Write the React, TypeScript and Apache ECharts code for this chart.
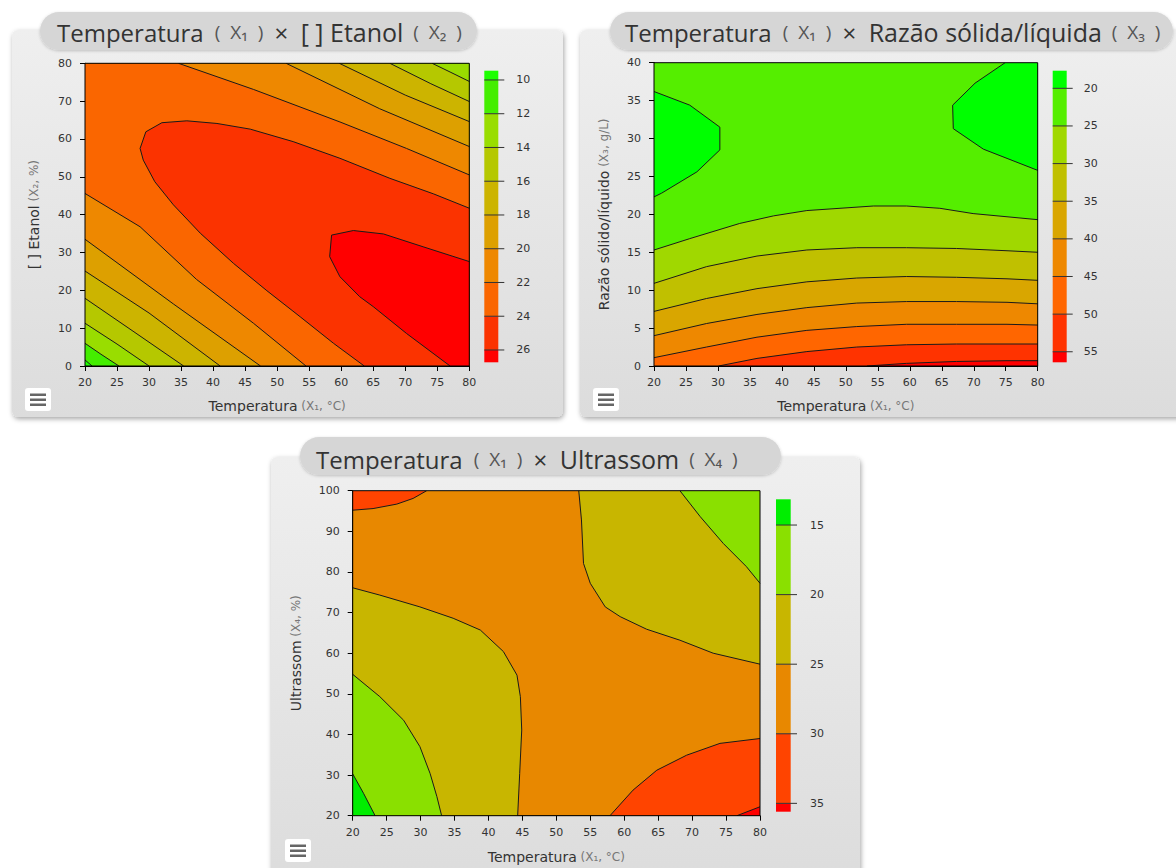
import React, { useEffect, useRef } from 'react';
import * as echarts from 'echarts';

type Pt = [number, number];
interface Fill { c: number; p: Pt[] }

const AXIS_FONT = '"DejaVu Sans", Verdana, sans-serif';
const TITLE_FONT = '"Open Sans", "Noto Sans", sans-serif';

// ---------------- Chart 1: Temperatura x [ ] Etanol ----------------
const c1X = [20, 80];
const c1Y = [0, 80];
const c1LegendTicks = [10, 12, 14, 16, 18, 20, 22, 24, 26];
const c1LegendBounds = [9.45, 10, 12, 14, 16, 18, 20, 22, 24, 26, 26.73];
const c1Colors = ['#1cff00', '#44ee00', '#99dd00', '#b5c800', '#ccb400', '#dda000', '#ee8800', '#fa6600', '#fb3300', '#ff0000'];
// contour lines (data coordinates)
const c1LL10: Pt[] = [[20, 1.6], [21.1, 0]];
const c1LL12: Pt[] = [[20, 6.0], [22.5, 3.1], [25.3, 0]];
const c1LL14: Pt[] = [[20, 11.3], [25, 5.8], [30.0, 0]];
const c1LL16: Pt[] = [[20, 17.9], [27.5, 9.2], [35.4, 0]];
const c1LL18: Pt[] = [[20, 25.1], [30, 14.0], [41.1, 0]];
const c1LL20: Pt[] = [[20, 33.5], [33.8, 16.4], [47.4, 0]];
const c1LL22: Pt[] = [[20, 45.6], [28.6, 36.8], [37.4, 22.9], [46.3, 11.3], [54.5, 0]];
const c1UR14: Pt[] = [[80, 75.2], [77, 77.7], [74.2, 80]];
const c1UR16: Pt[] = [[80, 69.9], [74, 74.6], [67.6, 80]];
const c1UR18: Pt[] = [[80, 64.6], [70, 71.6], [59.7, 80]];
const c1UR20: Pt[] = [[80, 58.0], [66, 68.0], [51.4, 80]];
const c1UR22: Pt[] = [[80, 50.5], [70.2, 57.5], [59.8, 64.5], [46.3, 73.1], [34.6, 80]];
const c1C24: Pt[] = [[63.6, 0], [58.8, 6.0], [53.6, 13.0], [48.4, 19.9], [43.2, 27.1], [38.0, 35.1], [33.8, 42.6], [30.9, 48.7], [29.1, 54.4], [28.6, 57.5], [29.5, 61.9], [32.0, 64.3], [35.9, 64.8], [40.6, 64.1], [45.8, 62.6], [52.5, 59.3], [59.8, 54.9], [67.6, 49.6], [74.4, 45.5], [80, 41.7]];
const c1C26: Pt[] = [[77, 0], [70.2, 8.6], [65, 15.7], [62.9, 18.3], [59.8, 23.6], [58.2, 28.9], [58.5, 34.6], [61.9, 35.8], [66.6, 34.9], [72.8, 31.5], [80, 27.6]];

// ---------------- Chart 2: Temperatura x Razão sólida/líquida ----------------
const c2X = [20, 80];
const c2Y = [0, 40];
const c2LegendTicks = [20, 25, 30, 35, 40, 45, 50, 55];
const c2LegendBounds = [17.66, 20, 25, 30, 35, 40, 45, 50, 55, 56.4];
const c2Colors = ['#00ff00', '#55ee00', '#a0d800', '#c0c000', '#d9a600', '#ee8800', '#ff6600', '#ff3300', '#ff0000'];
const c2BlobL: Pt[] = [[20, 36.2], [25.6, 34.4], [30.3, 31.5], [30.3, 28.5], [26.7, 25.6], [21.2, 22.8], [20, 22.3]];
const c2BlobR: Pt[] = [[74.9, 40], [70.2, 37.3], [66.7, 34.4], [66.8, 31.3], [71.5, 28.6], [80, 25.8]];
const c2L25: Pt[] = [[20, 15.3], [25.6, 16.8], [33.4, 18.8], [38.7, 19.8], [43.9, 20.5], [54.3, 21.1], [59.5, 21.1], [64.7, 20.8], [69.9, 20.1], [80, 19.3]];
const c2L30: Pt[] = [[20, 10.9], [28.2, 13.1], [36.1, 14.5], [43.9, 15.3], [51.7, 15.6], [59.5, 15.6], [67.3, 15.5], [75.2, 15.2], [80, 15.0]];
const c2L35: Pt[] = [[20, 7.2], [28.2, 8.9], [36.1, 10.2], [43.9, 11.1], [51.7, 11.6], [59.5, 11.8], [67.3, 11.7], [75.2, 11.5], [80, 11.3]];
const c2L40: Pt[] = [[20, 4.0], [28.2, 5.6], [36.1, 6.8], [43.9, 7.7], [51.7, 8.3], [59.5, 8.5], [67.3, 8.5], [75.2, 8.4], [80, 8.2]];
const c2L45: Pt[] = [[20, 1.1], [28.2, 2.5], [36.1, 3.8], [43.9, 4.7], [51.7, 5.2], [59.5, 5.5], [67.3, 5.5], [75.2, 5.5], [80, 5.4]];
const c2L50: Pt[] = [[30.1, 0], [36.1, 1.0], [43.9, 1.9], [51.7, 2.5], [59.5, 2.8], [67.3, 2.9], [80, 2.9]];
const c2L55: Pt[] = [[53.3, 0], [59.5, 0.35], [67.3, 0.6], [75.2, 0.7], [80, 0.7]];

// ---------------- Chart 3: Temperatura x Ultrassom ----------------
const c3X = [20, 80];
const c3Y = [20, 100];
const c3LegendTicks = [15, 20, 25, 30, 35];
const c3LegendBounds = [13.15, 15, 20, 25, 30, 35, 35.6];
const c3Colors = ['#00ee00', '#8ae000', '#c8b600', '#e88800', '#ff4400', '#ff0000'];
const c3T25: Pt[] = [[53.3, 100], [53.7, 92.8], [54.0, 82.1], [55.0, 77.2], [57.2, 71.4], [59.4, 69.0], [63.3, 65.9], [68.2, 63.2], [73.1, 60.0], [80, 57.3]];
const c3T20: Pt[] = [[68.2, 100], [71.2, 93.6], [74.6, 87.0], [78.0, 81.3], [80, 77.2]];
const c3L25: Pt[] = [[20, 76.1], [24.0, 74.3], [29.9, 71.4], [34.8, 68.6], [38.8, 65.7], [42.2, 60.4], [44.2, 54.6], [44.7, 49.3], [44.9, 41.1], [44.6, 30.4], [44.3, 20]];
const c3L20: Pt[] = [[20, 54.8], [24.0, 49.3], [27.5, 43.5], [29.9, 37.0], [31.4, 30.4], [32.4, 24.7], [33.1, 20]];
const c3L15: Pt[] = [[20, 30.3], [21.6, 25.5], [23.3, 20]];
const c3TL30: Pt[] = [[20, 95.2], [23.0, 95.6], [26.5, 96.7], [28.9, 98.1], [30.9, 100]];
const c3LR30: Pt[] = [[57.9, 20], [61.3, 26.3], [64.8, 31.2], [69.2, 34.9], [74.1, 37.8], [80, 39.0]];
const c3LR35: Pt[] = [[76.6, 20], [80, 22.2]];

// ---------------- fill regions (painter's order) ----------------
const c1Fills: Fill[] = [
  { c: 0, p: [[20, 0], [80, 0], [80, 80], [20, 80]] },
  { c: 1, p: [...c1LL10, [80, 0], [80, 80], [20, 80]] },
  { c: 2, p: [...c1LL12, [80, 0], [80, 80], [20, 80]] },
  { c: 3, p: [...c1LL14, [80, 0], ...c1UR14, [20, 80]] },
  { c: 4, p: [...c1LL16, [80, 0], ...c1UR16, [20, 80]] },
  { c: 5, p: [...c1LL18, [80, 0], ...c1UR18, [20, 80]] },
  { c: 6, p: [...c1LL20, [80, 0], ...c1UR20, [20, 80]] },
  { c: 7, p: [...c1LL22, [80, 0], ...c1UR22, [20, 80]] },
  { c: 8, p: [...c1C24, [80, 0]] },
  { c: 9, p: [...c1C26, [80, 0]] },
];
const c1Lines = [c1LL10, c1LL12, c1LL14, c1LL16, c1LL18, c1LL20, c1LL22, c1UR14, c1UR16, c1UR18, c1UR20, c1UR22, c1C24, c1C26];

const c2Fills: Fill[] = [
  { c: 1, p: [[20, 0], [80, 0], [80, 40], [20, 40]] },
  { c: 0, p: [...c2BlobL] },
  { c: 0, p: [...c2BlobR, [80, 40]] },
  { c: 2, p: [[20, 0], ...c2L25, [80, 0]] },
  { c: 3, p: [[20, 0], ...c2L30, [80, 0]] },
  { c: 4, p: [[20, 0], ...c2L35, [80, 0]] },
  { c: 5, p: [[20, 0], ...c2L40, [80, 0]] },
  { c: 6, p: [[20, 0], ...c2L45, [80, 0]] },
  { c: 7, p: [...c2L50, [80, 0]] },
  { c: 8, p: [...c2L55, [80, 0]] },
];
const c2Lines = [c2BlobL, c2BlobR, c2L25, c2L30, c2L35, c2L40, c2L45, c2L50, c2L55];

const c3Fills: Fill[] = [
  { c: 3, p: [[20, 20], [80, 20], [80, 100], [20, 100]] },
  { c: 2, p: [...c3T25, [80, 100]] },
  { c: 1, p: [...c3T20, [80, 100]] },
  { c: 2, p: [...c3L25, [20, 20]] },
  { c: 1, p: [...c3L20, [20, 20]] },
  { c: 0, p: [...c3L15, [20, 20]] },
  { c: 4, p: [...c3TL30, [20, 100]] },
  { c: 4, p: [...c3LR30, [80, 20]] },
  { c: 5, p: [...c3LR35, [80, 20]] },
];
const c3Lines = [c3T25, c3T20, c3L25, c3L20, c3L15, c3TL30, c3LR30, c3LR35];

// ---------------- helpers ----------------
function contourSeries(gi: number, fills: Fill[], lines: Pt[][], colors: string[], xr: number[], yr: number[]) {
  return [
    {
      type: 'custom', xAxisIndex: gi, yAxisIndex: gi, clip: true, silent: true, z: 2,
      data: fills.map((f, i) => [f.p[0][0], f.p[0][1], i]),
      renderItem: (params: any, api: any) => {
        const f = fills[params.dataIndex];
        return { type: 'polygon', shape: { points: f.p.map((q) => api.coord(q)) }, style: { fill: colors[f.c] } };
      },
    },
    {
      type: 'custom', xAxisIndex: gi, yAxisIndex: gi, clip: true, silent: true, z: 3,
      data: lines.map((l, i) => [l[0][0], l[0][1], i]),
      renderItem: (params: any, api: any) => {
        const l = lines[params.dataIndex];
        return { type: 'polyline', shape: { points: l.map((q) => api.coord(q)) }, style: { stroke: '#1a1a1a', lineWidth: 1, fill: 'none' } };
      },
    },
    {
      type: 'custom', xAxisIndex: gi, yAxisIndex: gi, clip: false, silent: true, z: 4,
      data: [[xr[0], yr[0]]],
      renderItem: (params: any, api: any) => {
        const a = api.coord([xr[0], yr[0]]);
        const b = api.coord([xr[1], yr[1]]);
        return { type: 'rect', shape: { x: a[0], y: b[1], width: b[0] - a[0], height: a[1] - b[1] }, style: { fill: 'none', stroke: '#000', lineWidth: 1 } };
      },
    },
  ];
}

function legendSeries(gi: number, bounds: number[], colors: string[], ticks: number[]) {
  return [
    {
      type: 'custom', xAxisIndex: gi, yAxisIndex: gi, clip: false, silent: true, z: 2,
      data: colors.map((c, i) => [0, bounds[i], i]),
      renderItem: (params: any, api: any) => {
        const i = params.dataIndex;
        const a = api.coord([0, bounds[i]]);
        const b = api.coord([0.7, bounds[i + 1]]);
        return { type: 'rect', shape: { x: a[0], y: Math.min(a[1], b[1]), width: b[0] - a[0], height: Math.abs(b[1] - a[1]) }, style: { fill: colors[i] } };
      },
    },
    {
      type: 'custom', xAxisIndex: gi, yAxisIndex: gi, clip: false, silent: true, z: 3,
      data: ticks.map((t) => [0, t]),
      renderItem: (params: any, api: any) => {
        const t = ticks[params.dataIndex];
        const a = api.coord([0, t]);
        const b = api.coord([1, t]);
        return { type: 'line', shape: { x1: a[0], y1: a[1], x2: b[0], y2: b[1] }, style: { stroke: '#333', lineWidth: 1 } };
      },
    },
  ];
}

const labelStyle = { fontFamily: AXIS_FONT, fontSize: 11, color: '#333' };
const nameRich = {
  a: { fontFamily: AXIS_FONT, fontSize: 14, color: '#333' },
  b: { fontFamily: AXIS_FONT, fontSize: 12, color: '#777' },
};

function plotXAxis(gi: number, range: number[], interval: number, name: string, gap: number) {
  return {
    type: 'value', gridIndex: gi, min: range[0], max: range[1], interval,
    axisLine: { show: true, onZero: false, lineStyle: { color: '#000', width: 1 } },
    axisTick: { show: true, length: 5, lineStyle: { color: '#000' } },
    axisLabel: { ...labelStyle, margin: 11 },
    splitLine: { show: false },
    name, nameLocation: 'middle', nameGap: gap, nameTextStyle: { rich: nameRich },
  };
}
function plotYAxis(gi: number, range: number[], interval: number, name: string, gap: number) {
  return {
    type: 'value', gridIndex: gi, min: range[0], max: range[1], interval,
    axisLine: { show: true, onZero: false, lineStyle: { color: '#000', width: 1 } },
    axisTick: { show: true, length: 5, lineStyle: { color: '#000' } },
    axisLabel: { ...labelStyle, margin: 13 },
    splitLine: { show: false },
    name, nameLocation: 'middle', nameRotate: 90, nameGap: gap, nameTextStyle: { rich: nameRich },
  };
}
function legendYAxis(gi: number, bounds: number[], ticks: number[], margin: number) {
  return {
    type: 'value', gridIndex: gi, min: bounds[0], max: bounds[bounds.length - 1], inverse: true, position: 'right',
    axisLine: { show: false },
    axisTick: { show: false },
    axisLabel: { ...labelStyle, margin, customValues: ticks },
    splitLine: { show: false },
  };
}
function legendXAxis(gi: number) {
  return { type: 'value', gridIndex: gi, min: 0, max: 1, show: false };
}

function panel(x: number, y: number, w: number, h: number) {
  return {
    type: 'rect', z: -10, silent: true,
    shape: { x, y, width: w, height: h, r: 6 },
    style: {
      fill: new echarts.graphic.LinearGradient(0, 0, 0, 1, [{ offset: 0, color: '#efefef' }, { offset: 1, color: '#dcdcdc' }]),
      shadowBlur: 5, shadowColor: 'rgba(0,0,0,0.35)', shadowOffsetX: 1, shadowOffsetY: 2,
    },
  };
}
function pill(x: number, y: number, w: number, h: number) {
  return {
    type: 'rect', z: 5, silent: true,
    shape: { x, y, width: w, height: h, r: h / 2 },
    style: { fill: '#d6d6d6', shadowBlur: 3, shadowColor: 'rgba(0,0,0,0.2)', shadowOffsetY: 1 },
  };
}
function titleText(x: number, y: number, text: string) {
  return {
    type: 'text', z: 6, silent: true, x, y,
    style: {
      text, verticalAlign: 'middle',
      rich: {
        a: { fontFamily: TITLE_FONT, fontSize: 24, fill: '#333' },
        c: { fontFamily: TITLE_FONT, fontSize: 25, fill: '#333' },
        b: { fontFamily: TITLE_FONT, fontSize: 19, fill: '#555' },
      },
    },
  };
}
function menuIcon(x: number, y: number) {
  return {
    type: 'group', x, y, z: 6, silent: true,
    children: [
      { type: 'rect', shape: { x: 0, y: 0, width: 26, height: 23, r: 3 }, style: { fill: '#ffffff' } },
      { type: 'rect', shape: { x: 5, y: 5.5, width: 16, height: 2.5 }, style: { fill: '#666' } },
      { type: 'rect', shape: { x: 5, y: 10.5, width: 16, height: 2.5 }, style: { fill: '#666' } },
      { type: 'rect', shape: { x: 5, y: 15.5, width: 16, height: 2.5 }, style: { fill: '#666' } },
    ],
  };
}

export default function App() {
  const ref = useRef<HTMLDivElement>(null);
  useEffect(() => {
    if (!ref.current) return;
    const chart = echarts.init(ref.current, null, { renderer: 'svg' });
    const option: any = {
      animation: false,
      backgroundColor: '#ffffff',
      textStyle: { fontFamily: AXIS_FONT },
      grid: [
        { left: 85, top: 63.3, width: 384.3, height: 302.7 },
        { left: 654, top: 62.7, width: 383.7, height: 303.3 },
        { left: 352.7, top: 490.7, width: 407.3, height: 325 },
        { left: 484.3, top: 70.7, width: 20, height: 291.6 },
        { left: 1052.7, top: 70.7, width: 20, height: 291.6 },
        { left: 776, top: 499.3, width: 21, height: 312.4 },
      ],
      xAxis: [
        plotXAxis(0, c1X, 5, '{a|Temperatura} {b|(X₁, °C)}', 33),
        plotXAxis(1, c2X, 5, '{a|Temperatura} {b|(X₁, °C)}', 33),
        plotXAxis(2, c3X, 5, '{a|Temperatura} {b|(X₁, °C)}', 34),
        legendXAxis(3),
        legendXAxis(4),
        legendXAxis(5),
      ],
      yAxis: [
        plotYAxis(0, c1Y, 10, '{a|[ ] Etanol} {b|(X₂, %)}', 44),
        plotYAxis(1, c2Y, 5, '{a|Razão sólido/líquido} {b|(X₃, g/L)}', 43),
        plotYAxis(2, c3Y, 10, '{a|Ultrassom} {b|(X₄, %)}', 50),
        legendYAxis(3, c1LegendBounds, c1LegendTicks, 12),
        legendYAxis(4, c2LegendBounds, c2LegendTicks, 11),
        legendYAxis(5, c3LegendBounds, c3LegendTicks, 13),
      ],
      series: [
        ...contourSeries(0, c1Fills, c1Lines, c1Colors, c1X, c1Y),
        ...contourSeries(1, c2Fills, c2Lines, c2Colors, c2X, c2Y),
        ...contourSeries(2, c3Fills, c3Lines, c3Colors, c3X, c3Y),
        ...legendSeries(3, c1LegendBounds, c1Colors, c1LegendTicks),
        ...legendSeries(4, c2LegendBounds, c2Colors, c2LegendTicks),
        ...legendSeries(5, c3LegendBounds, c3Colors, c3LegendTicks),
      ],
      graphic: [
        panel(12, 30, 551, 387),
        panel(580, 30, 620, 387),
        panel(271, 457, 589, 430),
        pill(40, 12, 437, 38),
        pill(610, 12, 563, 38),
        pill(300, 437, 481, 38),
        titleText(57, 32, '{a|Temperatura }{b| (  X₁  ) }{a| ×  }{c|[ ] Etanol}{b|  (  X₂  )}'),
        titleText(625, 32, '{a|Temperatura }{b| (  X₁  ) }{a| ×  }{c|Razão sólida/líquida}{b|  (  X₃  )}'),
        titleText(316, 459, '{a|Temperatura }{b| (  X₁  ) }{a| ×  }{c|Ultrassom}{b|  (  X₄  )}'),
        menuIcon(25, 388),
        menuIcon(593, 388),
        menuIcon(285, 839),
      ],
    };
    chart.setOption(option);
    return () => chart.dispose();
  }, []);
  return <div ref={ref} style={{ position: 'absolute', left: 0, top: 0, width: 1176, height: 868 }} />;
}
